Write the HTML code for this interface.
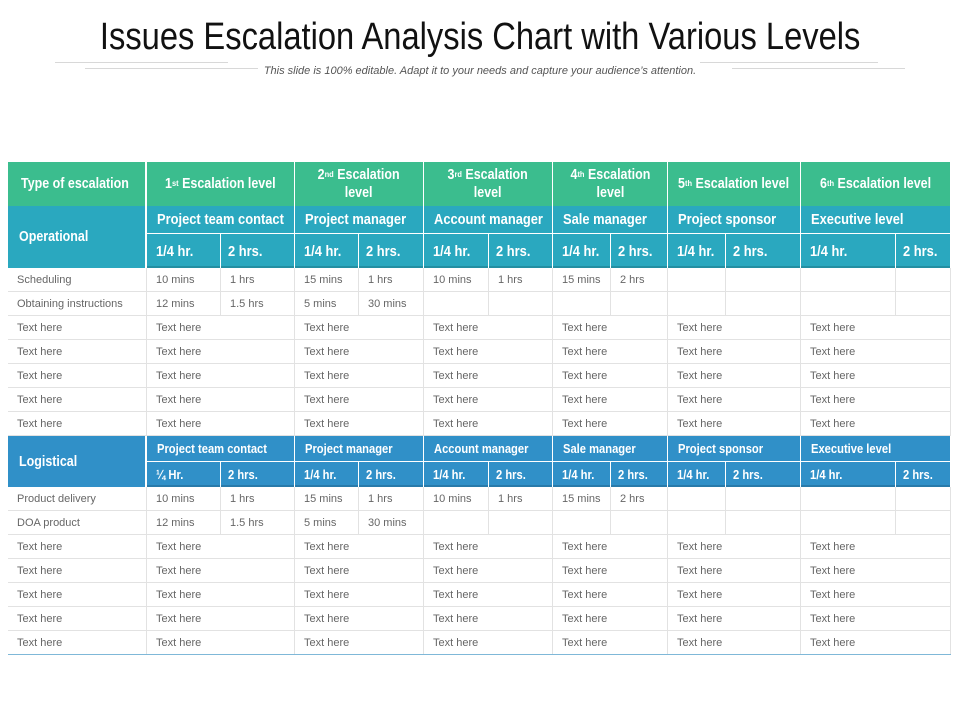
<!DOCTYPE html>
<html><head><meta charset="utf-8">
<style>
body{margin:0;background:#fff;}
#page{position:relative;width:960px;height:720px;overflow:hidden;background:#fff;font-family:"Liberation Sans",sans-serif;}
.c{position:absolute;box-sizing:border-box;display:flex;align-items:center;white-space:nowrap;}
.h{color:#fff;font-weight:bold;}
.h > span{display:inline-block;transform:scaleX(0.86);transform-origin:left center;}
.ctr > span{transform-origin:center center;text-align:center;}
.h sup{font-size:0.6em;vertical-align:top;position:relative;top:-1px;}
.d{color:#666;font-size:11px;padding-left:9px;border-right:1px solid #e2e2e2;border-bottom:1px solid #e2e2e2;}
.ln{position:absolute;height:1px;background:#d8d8d8;}
</style></head><body>
<div id="page">
<div style="position:absolute;left:0;width:960px;top:16px;text-align:center;font-size:38px;color:#111;"><span style="display:inline-block;transform:scaleX(0.86);">Issues Escalation Analysis Chart with Various Levels</span></div>
<div class="ln" style="left:55px;width:173px;top:62px"></div>
<div class="ln" style="left:85px;width:173px;top:68px"></div>
<div class="ln" style="left:700px;width:178px;top:62px"></div>
<div class="ln" style="left:732px;width:173px;top:68px"></div>
<div style="position:absolute;left:0;width:960px;top:65px;text-align:center;font-size:11px;font-style:italic;color:#555;">This slide is 100% editable. Adapt it to your needs and capture your audience’s attention.</div>
<div id="tbl"></div>
</div>
<script>
const colX=[8,147,221,295,359,424,489,553,611,668,726,801,896,951];
const levels=["1<sup>st</sup> Escalation level","2<sup>nd</sup> Escalation<br>level","3<sup>rd</sup> Escalation<br>level","4<sup>th</sup> Escalation<br>level","5<sup>th</sup> Escalation level","6<sup>th</sup> Escalation level"];
const roles=["Project team contact","Project manager","Account manager","Sale manager","Project sponsor","Executive level"];
const opRows=[["Scheduling","10 mins","1 hrs","15 mins","1 hrs","10 mins","1 hrs","15 mins","2 hrs","","","",""],["Obtaining  instructions","12 mins","1.5 hrs","5 mins","30 mins","","","","","","","",""]];
const logRows=[["Product delivery","10 mins","1 hrs","15 mins","1 hrs","10 mins","1 hrs","15 mins","2 hrs","","","",""],["DOA product","12 mins","1.5 hrs","5 mins","30 mins","","","","","","","",""]];
const T=document.getElementById('tbl');
function cell(x,y,w,h,html,cls,style,name){const d=document.createElement('div');d.className='c '+cls;d.style.cssText=`left:${x}px;top:${y}px;width:${w}px;height:${h}px;`+style;d.innerHTML='<span>'+html+'</span>';


T.appendChild(d);return d;}
const G='#3bbd8e',TL='#2aa8bf',BL='#3090c8';
cell(8,162,139,44,'Type of escalation','h','background:'+G+';font-size:14.5px;padding-left:13px;border-right:2px solid #fff;','header-type');
for(let i=0;i<6;i++){const x=colX[1+2*i],w=colX[3+2*i]-x;cell(x,162,w,44,levels[i],'h ctr','background:'+G+';font-size:14.5px;justify-content:center;text-align:center;line-height:18px;border-right:1px solid #fff;','header-level-'+(i+1));}
function section(y,label,col,h1,h2,fs,firstQ,name){
 cell(8,y,139,h1+h2,label,'h','background:'+col+';font-size:14.5px;padding-left:11px;border-right:2px solid #fff;',name+'-label');
 for(let i=0;i<6;i++){const x=colX[1+2*i],w=colX[3+2*i]-x;cell(x,y,w,h1,roles[i],'h','background:'+col+';font-size:'+fs+'px;padding-left:10px;border-right:1px solid #fff;border-bottom:1px solid #fff;',name+'-role-'+(i+1));
  cell(x,y+h1,colX[2+2*i]-x,h2,(i==0&&firstQ)?firstQ:'1/4 hr.','h','background:'+col+';font-size:'+fs+'px;padding-left:9px;border-right:1px solid #fff;box-shadow:inset 0 -2px 0 rgba(0,0,0,0.15);',name+'-time-a-'+(i+1));
  cell(colX[2+2*i],y+h1,colX[3+2*i]-colX[2+2*i],h2,'2 hrs.','h','background:'+col+';font-size:'+fs+'px;padding-left:7px;border-right:1px solid #fff;box-shadow:inset 0 -2px 0 rgba(0,0,0,0.15);',name+'-time-b-'+(i+1));}
}
function rows(y,data,name){
 let r=0;
 data.forEach(row=>{row.forEach((v,j)=>{cell(colX[j],y+r*24,colX[j+1]-colX[j],24,v,'d','',name+'-row'+r+'-col'+j);});r++;});
 for(let k=0;k<5;k++,r++){cell(8,y+r*24,139,24,'Text here','d','',name+'-row'+r+'-col0');
  for(let i=0;i<6;i++){const x=colX[1+2*i];cell(x,y+r*24,colX[3+2*i]-x,24,'Text here','d','',name+'-row'+r+'-level'+(i+1));}}
}
section(206,'Operational',TL,28,34,15,null,'operational');
rows(268,opRows,'operational');
section(436,'Logistical',BL,26,25,13,'¼ Hr.','logistical');
rows(487,logRows,'logistical');
const b=document.createElement('div');b.style.cssText='position:absolute;left:8px;top:654px;width:943px;height:1px;background:#7fb8d8;';


T.appendChild(b);
</script>
</body></html>
